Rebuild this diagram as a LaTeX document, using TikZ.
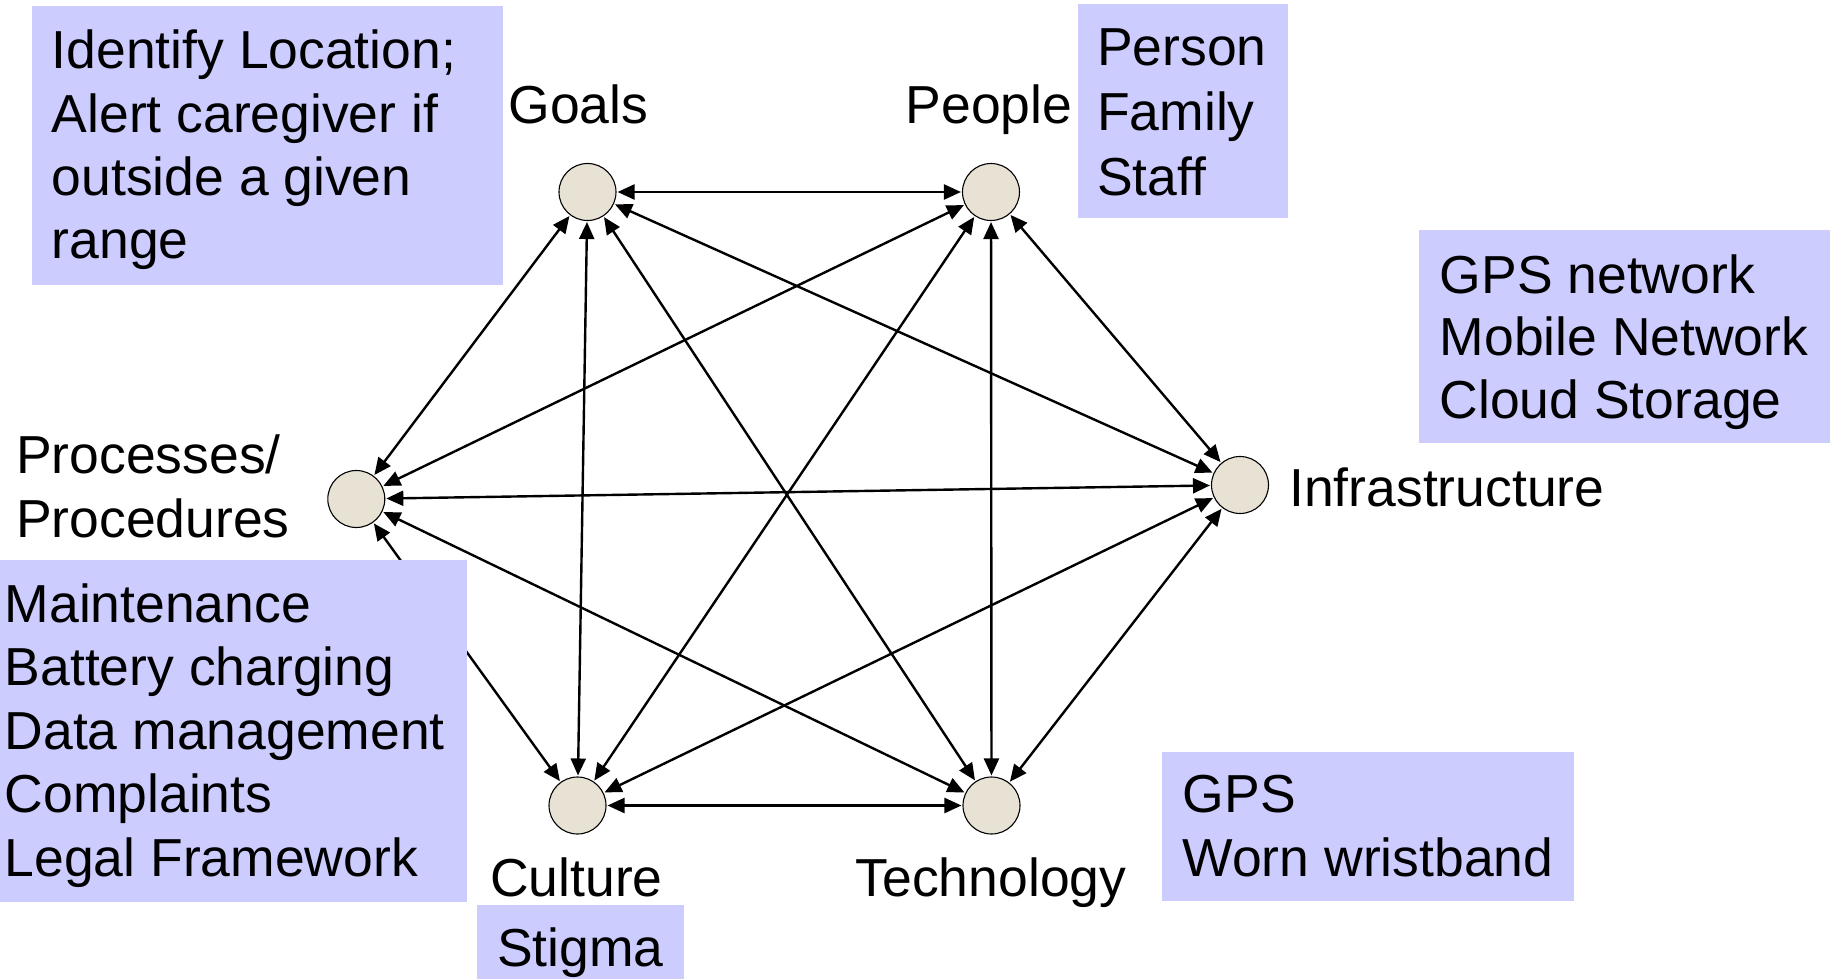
\documentclass[tikz,border=0pt]{standalone}
\usepackage{fontspec}
\setmainfont{Liberation Sans}
\usetikzlibrary{arrows.meta}
\definecolor{boxfill}{HTML}{CCCCFF}
\definecolor{circfill}{HTML}{E8E2D5}
\tikzset{
  hub/.style={circle, draw=black, line width=1.1pt, fill=circfill, minimum size=57pt, inner sep=0pt},
  link/.style={{Triangle[length=17pt,width=15pt]}-{Triangle[length=17pt,width=15pt]}, line width=2.4pt, shorten <=1pt, shorten >=1pt},
  panel/.style={fill=boxfill},
  lbl/.style={inner sep=0pt, font=\fontsize{53.5}{63.5}\selectfont},
}
\begin{document}
\begin{tikzpicture}[x=1pt,y=-1pt]
\useasboundingbox (0,0) rectangle (1832,979);
% hubs
\node[hub] (g) at (587.5,192) {};
\node[hub] (p) at (991,192) {};
\node[hub] (pr) at (356.3,499) {};
\node[hub] (inf) at (1240,485) {};
\node[hub] (c) at (577.5,805.5) {};
\node[hub] (t) at (991.5,805.5) {};
% links
\draw[link] (g) -- (p);
\draw[link] (g) -- (pr);
\draw[link] (g) -- (c);
\draw[link] (g) -- (t);
\draw[link] (g) -- (inf);
\draw[link] (p) -- (pr);
\draw[link] (p) -- (c);
\draw[link] (p) -- (t);
\draw[link] (p) -- (inf);
\draw[link] (pr) -- (inf);
\draw[link] (pr) -- (c);
\draw[link] (pr) -- (t);
\draw[link] (inf) -- (c);
\draw[link] (inf) -- (t);
\draw[link] (c) -- (t);
% panels
\fill[panel] (32,6) rectangle (503,285);
\fill[panel] (1078,4) rectangle (1288,218);
\fill[panel] (1419,230) rectangle (1830,443);
\fill[panel] (0,560) rectangle (467,902);
\fill[panel] (1162,752.3) rectangle (1574,901);
\fill[panel] (477,905) rectangle (684,979);
% panel texts
\node[lbl, anchor=base west] (t1) at (51.5,69) {\vtop{\baselineskip=63.3pt\hbox{Identify Location;}\hbox{Alert caregiver if}\hbox{outside a given}\hbox{range}}};
\node[lbl, anchor=base west] (t2) at (1097,66) {\vtop{\baselineskip=65pt\hbox{Person}\hbox{Family}\hbox{Staff}}};
\node[lbl, anchor=base west] (t3) at (1439.5,293) {\vtop{\baselineskip=62.7pt\hbox{GPS network}\hbox{Mobile Network}\hbox{Cloud Storage}}};
\node[lbl, anchor=base west] (t4) at (4.5,622) {\vtop{\baselineskip=63.5pt\hbox{Maintenance}\hbox{Battery charging}\hbox{Data management}\hbox{Complaints}\hbox{Legal Framework}}};
\node[lbl, anchor=base west] (t5) at (1182.5,812.5) {\vtop{\baselineskip=64.3pt\hbox{GPS}\hbox{Worn wristband}}};
\node[lbl, anchor=base] (t6) at (580.5,966) {Stigma};
% hub labels
\node[lbl, anchor=base] (lg) at (578.5,124) {Goals};
\node[lbl, anchor=base] (lp) at (989,124) {People};
\node[lbl, anchor=base west] (lpr) at (16,473.5) {\vtop{\baselineskip=64.3pt\hbox{Processes/}\hbox{Procedures}}};
\node[lbl, anchor=base west] (linf) at (1289,506) {Infrastructure};
\node[lbl, anchor=base] (lc) at (576.5,896) {Culture};
\node[lbl, anchor=base] (lt) at (991,896) {Technology};
\end{tikzpicture}
\end{document}
